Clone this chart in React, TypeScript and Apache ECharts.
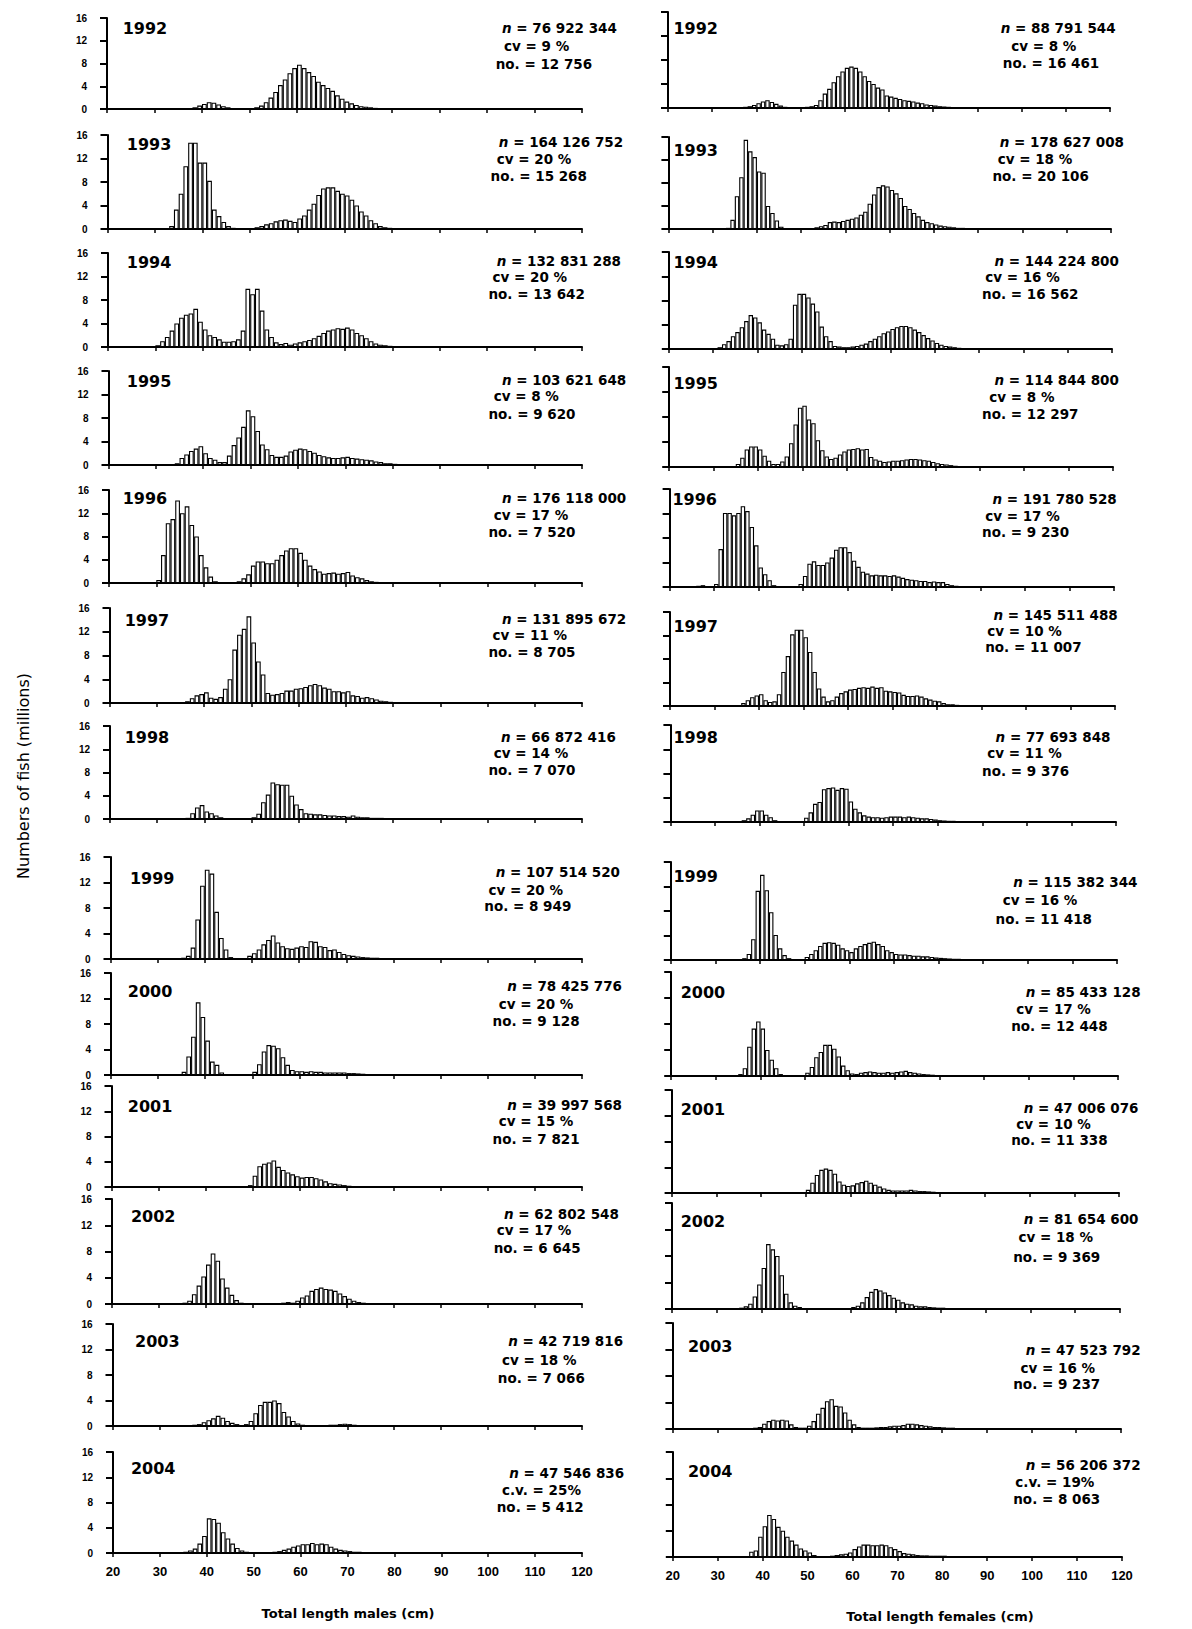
import React, { useEffect, useRef } from "react";
import * as echarts from "echarts";

// ---------------- data ----------------
const YEARS = ["1992", "1993", "1994", "1995", "1996", "1997", "1998", "1999", "2000", "2001", "2002", "2003", "2004"];
const LENGTH_BINS = Array.from({ length: 100 }, (_, i) => 20 + i); // 1-cm classes 20..119
const X_MIN = 20;
const X_MAX = 120;
const Y_MAX = 16;

// Males (millions), first value belongs to length class *_FROM
const M1992_FROM = 37;
const M1992 = [0.1, 0.3, 0.6, 0.9, 1.2, 1.1, 0.8, 0.5, 0.3, 0.15, 0.1, 0.05, 0.05, 0.1, 0.3, 0.6, 1.2, 2.0, 3.0, 4.2, 5.2, 6.3, 7.2, 7.8, 7.2, 6.5, 5.8, 4.8, 4.2, 3.7, 3.2, 2.4, 1.8, 1.3, 1.0, 0.7, 0.5, 0.4, 0.3, 0.2, 0.15, 0.1, 0.1, 0.05];
const M1993_FROM = 32;
const M1993 = [0.1, 0.5, 3.3, 6.0, 10.7, 14.7, 14.7, 11.3, 11.3, 8.2, 3.3, 2.2, 1.2, 0.5, 0.2, 0.1, 0.05, 0.05, 0.1, 0.3, 0.5, 0.8, 1.0, 1.3, 1.5, 1.6, 1.4, 1.2, 1.8, 2.3, 3.3, 4.3, 5.8, 6.9, 7.1, 7.1, 6.5, 6.0, 5.7, 5.0, 4.0, 3.0, 2.3, 1.5, 1.0, 0.5, 0.3, 0.2, 0.1];
const M1994_FROM = 30;
const M1994 = [0.3, 1.0, 1.7, 2.8, 4.0, 5.0, 5.5, 5.7, 6.5, 4.3, 3.0, 2.0, 1.7, 1.3, 0.9, 0.9, 1.0, 1.3, 2.8, 9.9, 9.0, 9.9, 6.2, 3.0, 1.7, 0.8, 0.5, 0.7, 0.4, 0.6, 0.8, 1.0, 1.2, 1.5, 1.9, 2.4, 2.8, 3.0, 3.2, 3.1, 3.3, 3.0, 2.4, 2.0, 1.5, 1.0, 0.6, 0.4, 0.3, 0.2, 0.15, 0.1, 0.1];
const M1995_FROM = 34;
const M1995 = [0.3, 1.2, 1.8, 2.4, 2.8, 3.2, 2.0, 1.2, 0.9, 0.5, 0.5, 1.6, 3.4, 4.7, 6.5, 9.3, 8.3, 5.8, 3.5, 2.7, 1.7, 1.4, 1.4, 1.6, 2.3, 2.6, 2.8, 2.7, 2.4, 2.1, 1.7, 1.5, 1.3, 1.2, 1.2, 1.3, 1.4, 1.2, 1.1, 1.0, 0.9, 0.8, 0.6, 0.5, 0.3, 0.3, 0.2, 0.1];
const M1996_FROM = 30;
const M1996 = [0.5, 4.8, 10.3, 11.0, 14.2, 12.0, 13.2, 10.0, 8.0, 4.8, 2.7, 1.1, 0.3, 0.1, 0.05, 0.05, 0.05, 0.3, 0.8, 1.5, 3.0, 3.7, 3.7, 3.4, 3.4, 4.0, 4.8, 5.6, 6.0, 6.0, 5.2, 4.0, 3.0, 2.4, 2.0, 1.6, 1.7, 1.8, 1.6, 1.7, 1.9, 1.3, 1.0, 0.8, 0.5, 0.3, 0.2, 0.15, 0.1, 0.1];
const M1997_FROM = 35;
const M1997 = [0.1, 0.3, 0.8, 1.3, 1.5, 1.8, 0.9, 0.7, 1.0, 2.4, 4.0, 9.0, 11.5, 12.5, 14.6, 10.2, 7.0, 4.8, 1.7, 1.4, 1.5, 1.7, 2.1, 2.1, 2.4, 2.5, 2.7, 3.0, 3.2, 3.0, 2.6, 2.4, 2.0, 2.0, 1.8, 2.0, 1.3, 1.2, 0.9, 1.0, 0.8, 0.6, 0.4, 0.3, 0.2, 0.15, 0.1];
const M1998_FROM = 36;
const M1998 = [0.2, 1.0, 2.0, 2.4, 1.3, 1.0, 0.6, 0.3, 0.1, 0.05, 0.05, 0.05, 0.05, 0.1, 0.3, 0.9, 2.9, 4.2, 6.3, 6.0, 5.9, 5.9, 4.0, 2.5, 1.7, 1.0, 0.9, 0.8, 0.8, 0.7, 0.6, 0.6, 0.5, 0.5, 0.4, 0.6, 0.4, 0.3, 0.3, 0.2, 0.2, 0.2, 0.1, 0.1];
const M1999_FROM = 35;
const M1999 = [0.2, 0.5, 1.8, 6.2, 11.5, 14.0, 13.4, 7.4, 3.3, 1.5, 0.3, 0.05, 0.05, 0.05, 0.5, 0.9, 1.5, 2.3, 3.0, 3.7, 2.6, 2.0, 1.7, 1.6, 1.8, 2.0, 1.9, 2.8, 2.7, 2.0, 1.9, 1.4, 1.5, 1.1, 0.8, 0.6, 0.5, 0.4, 0.3, 0.25, 0.2, 0.2, 0.15, 0.1, 0.1];
const M2000_FROM = 35;
const M2000 = [0.5, 2.9, 6.0, 11.4, 9.1, 5.4, 2.1, 1.6, 0.4, 0.1, 0.05, 0.05, 0.05, 0.05, 0.1, 0.5, 1.7, 3.7, 4.7, 4.6, 4.2, 2.8, 1.6, 0.8, 0.6, 0.6, 0.5, 0.6, 0.5, 0.5, 0.4, 0.4, 0.4, 0.4, 0.4, 0.3, 0.3, 0.25, 0.2, 0.15, 0.1, 0.1];
const M2001_FROM = 40;
const M2001 = [0.05, 0.05, 0.1, 0.1, 0.1, 0.05, 0.05, 0.05, 0.1, 0.3, 1.8, 3.3, 3.7, 3.9, 4.2, 3.2, 2.7, 2.3, 2.0, 1.7, 1.5, 1.6, 1.6, 1.4, 1.2, 0.9, 0.6, 0.5, 0.4, 0.3, 0.2, 0.15, 0.15, 0.15, 0.1, 0.1, 0.1, 0.1, 0.05];
const M2002_FROM = 34;
const M2002 = [0.1, 0.2, 0.5, 1.5, 2.8, 4.2, 6.0, 7.7, 6.6, 3.9, 2.5, 1.4, 0.6, 0.2, 0.1, 0.05, 0.05, 0.05, 0.05, 0.05, 0.05, 0.1, 0.2, 0.3, 0.2, 0.5, 1.0, 1.3, 2.0, 2.3, 2.5, 2.3, 2.2, 2.0, 1.6, 1.2, 0.8, 0.5, 0.3, 0.2, 0.15, 0.1];
const M2003_FROM = 36;
const M2003 = [0.1, 0.2, 0.3, 0.6, 0.9, 1.2, 1.6, 1.3, 0.8, 0.5, 0.3, 0.1, 0.3, 0.8, 2.0, 3.3, 3.8, 3.8, 4.0, 3.6, 2.2, 1.5, 0.8, 0.4, 0.2, 0.15, 0.1, 0.1, 0.1, 0.15, 0.2, 0.2, 0.3, 0.35, 0.3, 0.2, 0.15, 0.1, 0.1];
const M2004_FROM = 34;
const M2004 = [0.1, 0.2, 0.4, 0.7, 1.5, 2.7, 5.5, 5.4, 4.8, 3.3, 2.3, 1.5, 0.8, 0.4, 0.2, 0.1, 0.05, 0.05, 0.05, 0.1, 0.2, 0.3, 0.5, 0.7, 1.0, 1.2, 1.4, 1.4, 1.6, 1.4, 1.5, 1.4, 1.0, 0.7, 0.5, 0.4, 0.3, 0.2, 0.2, 0.1, 0.1, 0.1, 0.05];

// Females (millions)
const F1992_FROM = 36;
const F1992 = [0.1, 0.2, 0.3, 0.5, 0.8, 1.1, 1.3, 1.0, 0.7, 0.4, 0.2, 0.1, 0.1, 0.1, 0.1, 0.2, 0.3, 0.5, 1.3, 2.4, 3.2, 4.3, 5.3, 6.1, 6.7, 6.9, 6.7, 6.1, 5.3, 4.5, 4.0, 3.4, 3.1, 2.1, 1.9, 1.7, 1.5, 1.3, 1.2, 1.1, 0.9, 0.8, 0.6, 0.5, 0.4, 0.3, 0.25, 0.2, 0.15, 0.1, 0.1, 0.05];
const F1993_FROM = 33;
const F1993 = [0.2, 1.6, 5.7, 9.0, 15.5, 13.5, 12.5, 10.0, 9.8, 4.0, 2.8, 1.5, 0.4, 0.1, 0.05, 0.05, 0.05, 0.05, 0.05, 0.1, 0.3, 0.5, 0.7, 1.2, 1.3, 1.2, 1.4, 1.6, 1.8, 2.0, 2.5, 3.0, 4.4, 6.0, 7.3, 7.6, 7.4, 6.8, 6.2, 5.4, 4.0, 3.5, 2.8, 2.2, 1.6, 1.2, 1.0, 0.8, 0.6, 0.5, 0.4, 0.3, 0.2, 0.2, 0.1, 0.1];
const F1994_FROM = 31;
const F1994 = [0.3, 0.8, 1.3, 2.1, 2.8, 3.6, 4.6, 5.6, 5.2, 4.4, 3.2, 2.5, 1.7, 0.7, 0.6, 0.8, 1.7, 7.3, 9.1, 9.1, 8.5, 7.5, 6.2, 3.7, 2.1, 1.3, 0.5, 0.4, 0.3, 0.3, 0.4, 0.5, 0.7, 0.9, 1.3, 1.7, 2.1, 2.6, 2.9, 3.3, 3.6, 3.8, 3.8, 3.6, 3.2, 2.8, 2.3, 1.8, 1.4, 1.0, 0.7, 0.5, 0.4, 0.3, 0.2, 0.15, 0.1];
const F1995_FROM = 35;
const F1995 = [0.5, 1.5, 2.8, 3.3, 3.3, 2.8, 1.8, 1.0, 0.5, 0.5, 0.9, 1.7, 3.8, 6.8, 9.5, 9.8, 7.6, 7.0, 4.3, 2.7, 1.7, 1.3, 1.5, 2.0, 2.5, 2.8, 2.9, 3.0, 2.8, 2.9, 1.6, 1.2, 1.0, 0.8, 0.9, 1.0, 1.0, 1.1, 1.2, 1.3, 1.3, 1.2, 1.1, 1.0, 0.8, 0.6, 0.5, 0.4, 0.3, 0.2, 0.1];
const F1996_FROM = 26;
const F1996 = [0.2, 0.3, 0.1, 0.05, 0.5, 6.2, 12.1, 12.1, 11.7, 12.1, 13.2, 12.4, 9.8, 6.8, 3.2, 2.1, 1.1, 0.3, 0.05, 0.05, 0.05, 0.1, 0.1, 0.5, 1.8, 3.8, 4.2, 3.6, 3.6, 4.0, 4.8, 6.1, 6.5, 6.5, 5.7, 4.3, 3.3, 2.5, 2.2, 1.9, 2.0, 1.9, 1.9, 1.8, 1.9, 1.7, 1.5, 1.3, 1.2, 1.1, 1.0, 1.0, 0.8, 0.9, 0.8, 0.8, 0.5, 0.3, 0.2, 0.1];
const F1997_FROM = 36;
const F1997 = [0.5, 1.0, 1.5, 1.8, 2.0, 1.0, 0.7, 0.8, 2.0, 5.8, 8.5, 12.2, 13.0, 13.0, 11.7, 9.2, 5.8, 3.0, 1.6, 0.8, 1.0, 1.6, 2.2, 2.5, 2.8, 2.9, 3.1, 3.2, 3.1, 3.3, 3.1, 3.2, 2.6, 2.5, 2.4, 2.3, 1.9, 1.7, 1.7, 1.8, 1.6, 1.3, 1.1, 0.9, 0.8, 0.5, 0.3, 0.3, 0.2, 0.1];
const F1998_FROM = 36;
const F1998 = [0.3, 0.6, 1.2, 1.9, 1.9, 1.2, 0.8, 0.3, 0.1, 0.05, 0.05, 0.05, 0.05, 0.1, 0.7, 1.6, 3.0, 3.3, 5.4, 5.6, 5.7, 5.3, 5.6, 5.5, 3.4, 2.2, 1.6, 1.1, 0.9, 0.8, 0.8, 0.7, 0.8, 0.9, 0.9, 0.9, 0.8, 0.9, 0.8, 0.7, 0.6, 0.6, 0.5, 0.4, 0.3, 0.25, 0.2, 0.2, 0.15, 0.1, 0.1];
const F1999_FROM = 35;
const F1999 = [0.1, 0.3, 1.0, 3.4, 11.3, 13.9, 11.4, 7.8, 4.1, 1.9, 0.8, 0.3, 0.1, 0.1, 0.1, 0.5, 1.0, 1.6, 2.3, 2.8, 2.9, 2.8, 2.5, 1.9, 1.6, 1.3, 1.9, 2.3, 2.6, 2.8, 3.0, 2.6, 2.3, 1.6, 1.3, 1.0, 0.9, 0.9, 0.8, 0.7, 0.7, 0.6, 0.6, 0.5, 0.4, 0.35, 0.3, 0.25, 0.2, 0.2, 0.15, 0.15, 0.1, 0.1];
const F2000_FROM = 35;
const F2000 = [0.3, 1.2, 4.5, 7.3, 8.4, 7.3, 4.0, 2.5, 1.2, 0.3, 0.1, 0.1, 0.05, 0.05, 0.1, 0.5, 1.4, 2.9, 3.7, 4.8, 4.8, 4.2, 3.0, 1.6, 0.9, 0.4, 0.3, 0.5, 0.6, 0.7, 0.6, 0.5, 0.5, 0.6, 0.5, 0.6, 0.7, 0.8, 0.6, 0.5, 0.4, 0.3, 0.25, 0.2, 0.15, 0.1, 0.1];
const F2001_FROM = 49;
const F2001 = [0.1, 0.5, 1.6, 2.8, 3.6, 3.8, 3.6, 3.0, 1.8, 1.3, 1.1, 1.2, 1.5, 1.7, 1.9, 1.6, 1.3, 1.0, 0.7, 0.5, 0.4, 0.4, 0.4, 0.4, 0.5, 0.4, 0.3, 0.3, 0.25, 0.2, 0.15, 0.1, 0.1, 0.1];
const F2002_FROM = 34;
const F2002 = [0.1, 0.2, 0.4, 0.8, 1.9, 3.7, 6.2, 9.8, 9.0, 8.0, 5.1, 2.3, 1.0, 0.5, 0.3, 0.1, 0.05, 0.05, 0.05, 0.05, 0.05, 0.05, 0.05, 0.05, 0.05, 0.05, 0.3, 0.5, 1.0, 1.8, 2.6, 3.0, 2.8, 2.5, 2.1, 1.7, 1.4, 1.0, 0.8, 0.7, 0.5, 0.4, 0.4, 0.3, 0.25, 0.2, 0.2, 0.15, 0.1, 0.1];
const F2003_FROM = 36;
const F2003 = [0.1, 0.15, 0.2, 0.3, 0.8, 1.2, 1.4, 1.3, 1.4, 1.3, 0.7, 0.3, 0.2, 0.2, 0.5, 1.2, 2.3, 3.2, 4.2, 4.5, 3.5, 3.4, 2.5, 1.4, 0.7, 0.3, 0.2, 0.2, 0.2, 0.25, 0.3, 0.3, 0.4, 0.5, 0.5, 0.6, 0.8, 0.8, 0.7, 0.6, 0.5, 0.4, 0.3, 0.3, 0.25, 0.2, 0.2, 0.15, 0.1, 0.1, 0.1];
const F2004_FROM = 36;
const F2004 = [0.1, 0.8, 1.0, 3.1, 4.7, 6.4, 5.8, 4.6, 4.0, 3.1, 2.5, 1.9, 1.3, 1.0, 0.7, 0.3, 0.15, 0.1, 0.1, 0.2, 0.3, 0.4, 0.5, 0.7, 1.2, 1.6, 1.9, 1.9, 1.8, 1.8, 1.9, 1.8, 1.5, 1.2, 0.9, 0.6, 0.5, 0.4, 0.3, 0.25, 0.25, 0.2, 0.2, 0.2, 0.2, 0.15, 0.1, 0.1, 0.1, 0.1];

const MALE_FROM = [M1992_FROM, M1993_FROM, M1994_FROM, M1995_FROM, M1996_FROM, M1997_FROM, M1998_FROM, M1999_FROM, M2000_FROM, M2001_FROM, M2002_FROM, M2003_FROM, M2004_FROM];
const MALE_VALUES = [M1992, M1993, M1994, M1995, M1996, M1997, M1998, M1999, M2000, M2001, M2002, M2003, M2004];
const FEMALE_FROM = [F1992_FROM, F1993_FROM, F1994_FROM, F1995_FROM, F1996_FROM, F1997_FROM, F1998_FROM, F1999_FROM, F2000_FROM, F2001_FROM, F2002_FROM, F2003_FROM, F2004_FROM];
const FEMALE_VALUES = [F1992, F1993, F1994, F1995, F1996, F1997, F1998, F1999, F2000, F2001, F2002, F2003, F2004];

const MALE_N = ["76 922 344", "164 126 752", "132 831 288", "103 621 648", "176 118 000", "131 895 672", "66 872 416", "107 514 520", "78 425 776", "39 997 568", "62 802 548", "42 719 816", "47 546 836"];
const MALE_CV = ["cv = 9 %", "cv = 20 %", "cv = 20 %", "cv = 8 %", "cv = 17 %", "cv = 11 %", "cv = 14 %", "cv = 20 %", "cv = 20 %", "cv = 15 %", "cv = 17 %", "cv = 18 %", "c.v. = 25%"];
const MALE_NO = ["12 756", "15 268", "13 642", "9 620", "7 520", "8 705", "7 070", "8 949", "9 128", "7 821", "6 645", "7 066", "5 412"];
const FEMALE_N = ["88 791 544", "178 627 008", "144 224 800", "114 844 800", "191 780 528", "145 511 488", "77 693 848", "115 382 344", "85 433 128", "47 006 076", "81 654 600", "47 523 792", "56 206 372"];
const FEMALE_CV = ["cv = 8 %", "cv = 18 %", "cv = 16 %", "cv = 8 %", "cv = 17 %", "cv = 10 %", "cv = 11 %", "cv = 16 %", "cv = 17 %", "cv = 10 %", "cv = 18 %", "cv = 16 %", "c.v. = 19%"];
const FEMALE_NO = ["16 461", "20 106", "16 562", "12 297", "9 230", "11 007", "9 376", "11 418", "12 448", "11 338", "9 369", "9 237", "8 063"];

// ---------------- layout (page pixels) ----------------
const S = 1192 / 1147;
const LEFT_TOP = [18, 135, 253, 371, 490, 608, 726, 857, 973, 1086, 1199, 1324, 1452];
const LEFT_BOTTOM = [109, 229, 347, 465, 583, 703, 819, 959, 1075, 1187, 1304, 1426, 1553];
const RIGHT_TOP = [12, 137, 252, 367, 489, 612, 725, 862, 972, 1090, 1203, 1323, 1452];
const RIGHT_BOTTOM = [108, 229, 349, 467, 587, 706, 822, 960, 1076, 1193, 1309, 1429, 1557];
// annotation positions in reference-preview px: [nx, cvx, nox, ny, cvy, noy]
const LEFT_NOTE = [
  [483, 485, 477, 27, 44, 62], [480, 478, 472, 137, 153, 169], [478, 474, 470, 251, 267, 283],
  [483, 475, 470, 366, 381, 398], [483, 475, 470, 479, 496, 512], [483, 474, 470, 596, 611, 627],
  [482, 475, 470, 709, 725, 741], [477, 470, 466, 839, 856, 872], [488, 480, 474, 949, 966, 982],
  [488, 480, 474, 1063, 1079, 1096], [485, 478, 475, 1168, 1184, 1201], [489, 483, 479, 1290, 1309, 1326],
  [490, 483, 478, 1417, 1434, 1450],
];
const RIGHT_NOTE = [
  [963, 973, 965, 27, 44, 61], [962, 960, 955, 137, 153, 169], [957, 948, 945, 251, 267, 283],
  [957, 952, 945, 366, 382, 398], [955, 948, 945, 480, 497, 512], [956, 950, 948, 592, 607, 623],
  [958, 950, 945, 709, 725, 742], [975, 965, 958, 849, 866, 884], [987, 978, 973, 955, 971, 987],
  [985, 978, 973, 1066, 1082, 1097], [985, 980, 975, 1173, 1190, 1210], [987, 982, 975, 1299, 1316, 1332],
  [987, 977, 975, 1410, 1426, 1442],
];
const LEFT_YEAR = [[118, 27], [122, 139], [122, 253], [122, 367], [118, 480], [120, 597], [120, 710], [125, 845], [123, 954], [123, 1065], [126, 1171], [130, 1291], [126, 1413]];
const RIGHT_YEAR = [[648, 27], [648, 145], [648, 253], [648, 369], [647, 481], [648, 603], [648, 710], [648, 843], [655, 955], [655, 1068], [655, 1175], [662, 1296], [662, 1416]];

const BOLD = '"DejaVu Sans", sans-serif';
const ARIAL = '"Liberation Sans", Arial, sans-serif';

function toBins(from: number, vals: number[]) {
  return LENGTH_BINS.map((L) => {
    const i = L - from;
    const v = i >= 0 && i < vals.length ? vals[i] : 0;
    return v > 0 ? v : null;
  });
}

function buildOption() {
  const grid: any[] = [];
  const xAxis: any[] = [];
  const yAxis: any[] = [];
  const series: any[] = [];
  const graphic: any[] = [];

  for (let col = 0; col < 2; col++) {
    for (let row = 0; row < YEARS.length; row++) {
      const idx = col * YEARS.length + row;
      const top = col ? RIGHT_TOP[row] : LEFT_TOP[row];
      const bottom = col ? RIGHT_BOTTOM[row] : LEFT_BOTTOM[row];
      const x0 = col ? 668 + row * 0.4 : 107 + row * 0.5;
      const x1 = col ? 1110 + row * 1.0 : 582;
      grid.push({ left: x0, top, width: x1 - x0, height: bottom - top });

      xAxis.push({
        type: "category",
        gridIndex: idx,
        data: LENGTH_BINS,
        position: "top",
        show: false,
      });
      xAxis.push({
        type: "value",
        gridIndex: idx,
        position: "bottom",
        min: X_MIN,
        max: X_MAX,
        interval: 10,
        axisLine: { show: true, onZero: false, lineStyle: { color: "#000", width: 2 } },
        axisTick: { show: true, length: 4, lineStyle: { color: "#000", width: 1.5 } },
        axisLabel: {
          show: row === YEARS.length - 1,
          color: "#000",
          fontFamily: ARIAL,
          fontWeight: "bold",
          fontSize: 13,
          margin: 12,
        },
        splitLine: { show: false },
      });
      yAxis.push({
        type: "value",
        gridIndex: idx,
        min: 0,
        max: Y_MAX,
        interval: 4,
        axisLine: { show: true, lineStyle: { color: "#000", width: 2 } },
        axisTick: { show: true, length: 7, lineStyle: { color: "#000", width: 2 } },
        axisLabel: {
          show: col === 0,
          color: "#000",
          fontFamily: ARIAL,
          fontWeight: "bold",
          fontSize: 10,
          margin: 20,
        },
        splitLine: { show: false },
      });
      const from = col ? FEMALE_FROM[row] : MALE_FROM[row];
      const vals = col ? FEMALE_VALUES[row] : MALE_VALUES[row];
      series.push({
        type: "bar",
        name: (col ? "F" : "M") + YEARS[row],
        xAxisIndex: idx * 2,
        yAxisIndex: idx,
        data: toBins(from, vals),
        barCategoryGap: "0%",
        barGap: "0%",
        itemStyle: { color: "#fff", borderColor: "#000", borderWidth: 1.1 },
        silent: true,
      });

      const yr = col ? RIGHT_YEAR[row] : LEFT_YEAR[row];
      graphic.push({
        type: "text",
        x: yr[0] * S,
        y: yr[1] * S,
        style: {
          text: YEARS[row],
          fontFamily: BOLD,
          fontWeight: "bold",
          fontSize: 16,
          fill: "#000",
          align: "left",
          verticalAlign: "middle",
        },
      });
      const note = col ? RIGHT_NOTE[row] : LEFT_NOTE[row];
      const nTxt = col ? FEMALE_N[row] : MALE_N[row];
      const cvTxt = col ? FEMALE_CV[row] : MALE_CV[row];
      const noTxt = col ? FEMALE_NO[row] : MALE_NO[row];
      const common = { fontFamily: BOLD, fontWeight: "bold", fontSize: 13.5, fill: "#000", align: "left", verticalAlign: "middle" };
      graphic.push({
        type: "text",
        x: note[0] * S,
        y: note[3] * S,
        style: {
          ...common,
          text: "{i|n} = " + nTxt,
          rich: { i: { fontFamily: BOLD, fontWeight: "bold", fontStyle: "italic", fontSize: 13.5, fill: "#000" } },
        },
      });
      graphic.push({ type: "text", x: note[1] * S, y: note[4] * S, style: { ...common, text: cvTxt } });
      graphic.push({ type: "text", x: note[2] * S, y: note[5] * S, style: { ...common, text: "no. = " + noTxt } });
    }
  }

  graphic.push({
    type: "text",
    x: 23,
    y: 776,
    rotation: Math.PI / 2,
    style: {
      text: "Numbers of fish (millions)",
      fontFamily: '"DejaVu Sans", sans-serif',
      fontSize: 16,
      fill: "#000",
      align: "center",
      verticalAlign: "middle",
    },
  });
  graphic.push({
    type: "text",
    x: 348,
    y: 1613,
    style: {
      text: "Total length males (cm)",
      fontFamily: BOLD,
      fontWeight: "bold",
      fontSize: 13,
      fill: "#000",
      align: "center",
      verticalAlign: "middle",
    },
  });
  graphic.push({
    type: "text",
    x: 940,
    y: 1616,
    style: {
      text: "Total length females (cm)",
      fontFamily: BOLD,
      fontWeight: "bold",
      fontSize: 13,
      fill: "#000",
      align: "center",
      verticalAlign: "middle",
    },
  });

  return {
    animation: false,
    backgroundColor: "#fff",
    grid,
    xAxis,
    yAxis,
    series,
    graphic,
  };
}

export default function App() {
  const ref = useRef<HTMLDivElement>(null);
  useEffect(() => {
    document.body.style.margin = "0";
    document.body.style.overflow = "hidden";
    const chart = echarts.init(ref.current as HTMLDivElement, null, { renderer: "svg" });
    chart.setOption(buildOption() as any);
    return () => chart.dispose();
  }, []);
  return <div ref={ref} style={{ width: 1192, height: 1629 }} />;
}
